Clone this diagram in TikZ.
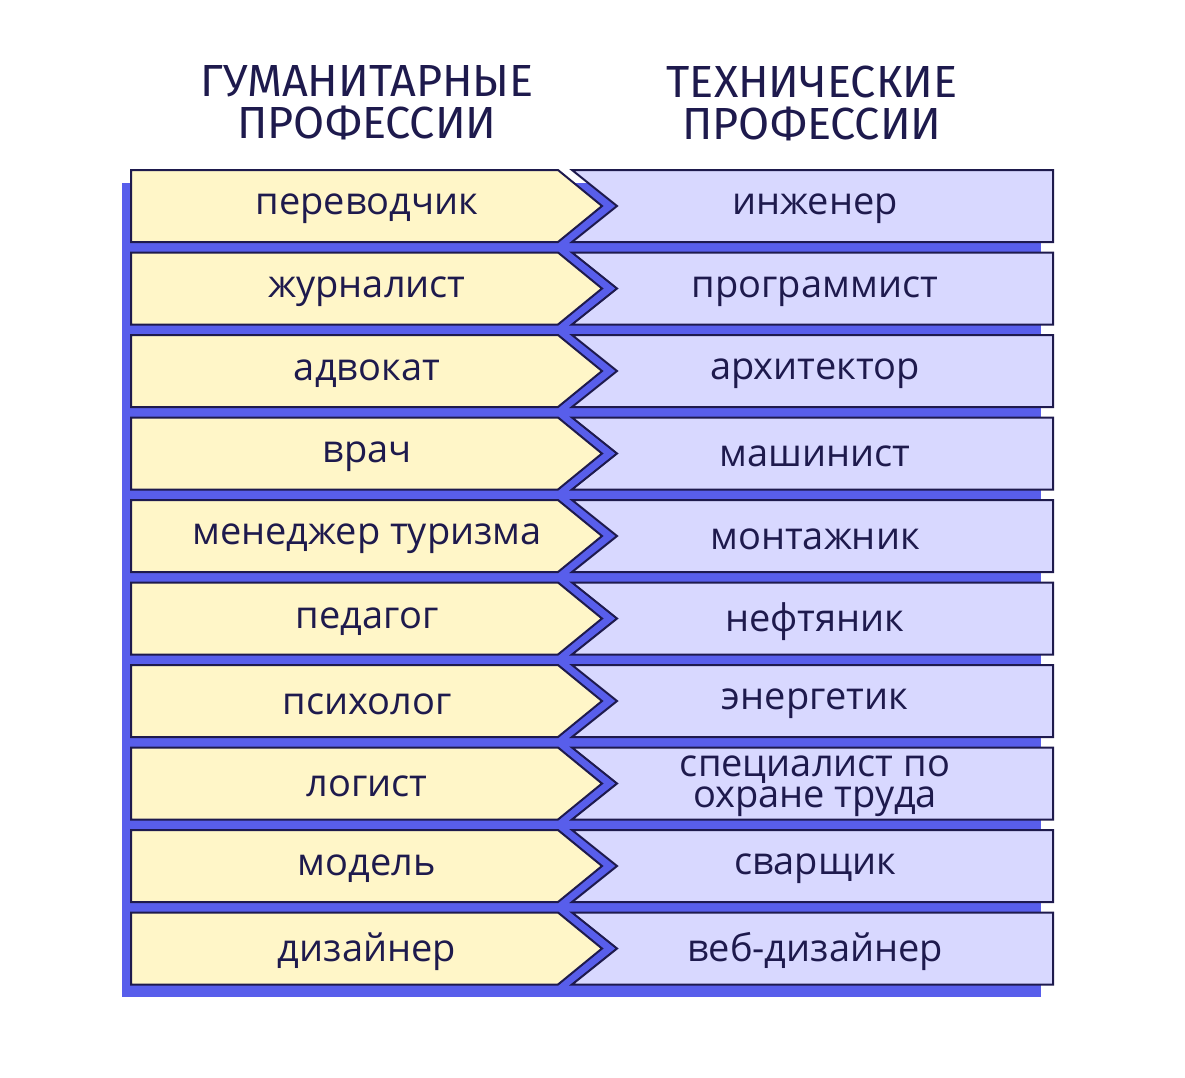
\documentclass[tikz,border=0pt]{standalone}
\usepackage{fontspec}
\setmainfont{Fira Sans}
\newfontfamily\rowfont{Open Sans}
\begin{document}
\begin{tikzpicture}[x=1pt,y=-1pt,line join=miter]
	\definecolor{custcol_ink}{RGB}{30, 26, 77}
	\definecolor{custcol_blue}{RGB}{88, 94, 235}
	\definecolor{custcol_yel}{RGB}{255, 246, 200}
	\definecolor{custcol_lav}{RGB}{216, 216, 255}
	\tikzset{label/.style={inner sep=0, outer sep=0, custcol_ink, font=\rowfont\fontsize{38pt}{31pt}\selectfont},
		head/.style={inner sep=0, outer sep=0, custcol_ink, align=center, font=\fontsize{45pt}{42pt}\selectfont}}
	\useasboundingbox (0,0) rectangle (1185,1077);
	\fill [custcol_blue] (122,183) rectangle (1041,997);
	\node[head] (humhead) at (367,103) {ГУМАНИТАРНЫЕ\\ПРОФЕССИИ};
	\node[head] (techhead) at (812,103) {ТЕХНИЧЕСКИЕ\\ПРОФЕССИИ};
	\foreach \left/\right [count=\i from 0] in {переводчик/инженер, журналист/программист, адвокат/архитектор, врач/машинист, менеджер туризма/монтажник, педагог/нефтяник, психолог/энергетик, логист/{специалист по\\охране труда}, модель/сварщик, дизайнер/веб-дизайнер}{
		\pgfmathsetmacro\ytop{170+82.5*\i}
		\pgfmathsetmacro\ybot{\ytop+72}
		\pgfmathsetmacro\ymid{\ytop+36}
		\draw [line width=2.0pt, custcol_ink, fill=custcol_lav] (572,\ytop) -- (1053,\ytop) -- (1053,\ybot) -- (572,\ybot) -- (617,\ymid) -- cycle;
		\draw [line width=2.0pt, custcol_ink, fill=custcol_yel] (131,\ytop) -- (558,\ytop) -- (602,\ymid) -- (558,\ybot) -- (131,\ybot) -- cycle;
		\node[label] (hum\i) at (367,\ymid+3) {\left};
		\node[label, align=center] (tech\i) at (815,\ymid+3) {\right};
	}
\end{tikzpicture}
\end{document}
